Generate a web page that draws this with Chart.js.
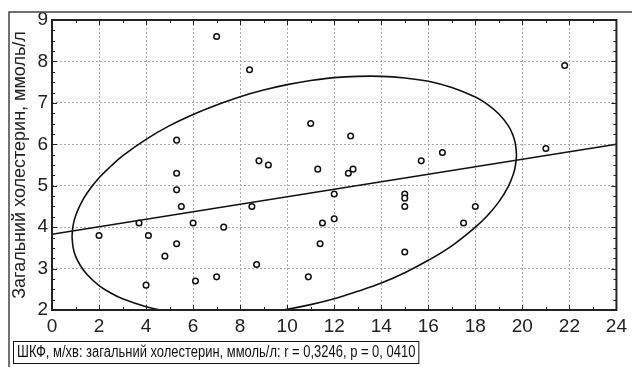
<!DOCTYPE html>
<html>
<head>
<meta charset="utf-8">
<script src="https://cdn.jsdelivr.net/npm/chart.js@4"></script>
<style>
    html, body { margin: 0; padding: 0; background: #fff; }
    canvas { display: block; }
</style>
</head>
<body>
<canvas id="chart" width="632" height="367"></canvas>
<script>
//Observed points: GFR (ml/min) against total cholesterol (mmol/l)
const gfr = [2.0, 3.7, 4.1, 4.0, 4.8, 5.3, 5.3, 5.3, 5.5, 5.3, 6.0, 6.1, 7.0, 7.3, 7.0, 8.4, 8.5, 8.8, 9.2, 8.7,
    10.9, 11.0, 11.3, 11.5, 11.4, 12.0, 12.0, 12.6, 12.8, 12.7, 15.0, 15.0, 15.0, 15.0, 15.7, 16.6, 17.5, 18.0, 21.0, 21.8];
const cholesterol = [3.8, 4.1, 3.8, 2.6, 3.3, 6.1, 5.3, 4.9, 4.5, 3.6, 4.1, 2.7, 8.6, 4.0, 2.8, 7.8, 4.5, 5.6, 5.5, 3.1,
    2.8, 6.5, 5.4, 4.1, 3.6, 4.8, 4.2, 5.3, 5.4, 6.2, 4.8, 4.7, 4.5, 3.4, 5.6, 5.8, 4.1, 4.5, 5.9, 7.9];

//Regression line end points
const fitX = [0, 24];
const fitY = [3.83, 6.0];

//Confidence ellipse outline (clockwise from the leftmost point)
const ellipseX = [0.85, 0.9, 1.0, 1.2, 1.5, 2.0, 2.5, 3.0, 4.0, 5.0, 6.0, 7.0, 8.0, 9.0, 10.0, 11.0, 12.0, 13.0, 14.0,
    15.0, 16.0, 17.0, 18.0, 18.5, 19.0, 19.4, 19.6, 19.7, 19.75,
    19.7, 19.6, 19.4, 19.0, 18.5, 18.0, 17.0, 16.0, 15.0, 14.0, 13.0, 12.0, 11.0, 10.0, 9.0, 8.0, 7.0, 6.0, 5.0,
    4.0, 3.0, 2.5, 2.0, 1.5, 1.2, 1.0, 0.9, 0.85];
const ellipseY = [3.77, 4.05, 4.27, 4.54, 4.83, 5.19, 5.47, 5.72, 6.12, 6.45, 6.72, 6.95, 7.15, 7.31, 7.44, 7.54, 7.61, 7.64, 7.64,
    7.60, 7.52, 7.37, 7.14, 6.97, 6.73, 6.45, 6.22, 6.02, 5.75,
    5.47, 5.25, 4.98, 4.61, 4.27, 4.00, 3.55, 3.20, 2.90, 2.65, 2.45, 2.27, 2.13, 2.02, 1.94, 1.89, 1.87, 1.90, 1.96,
    2.08, 2.27, 2.41, 2.59, 2.85, 3.08, 3.30, 3.50, 3.77];

const xTicks = [0, 24, 2];
const yTicks = [2, 9, 1];
const yTitle = 'Загальний холестерин, ммоль/л';
const caption = 'ШКФ, м/хв: загальний холестерин, ммоль/л: r = 0,3246, p = 0, 0410';

function toPoints(xs, ys) {
    return xs.map(function (x, i) { return {x: x, y: ys[i]}; });
}

//Frame, inner minor ticks and the caption box
const framePlugin = {
    id: 'frame',
    afterDraw: function (chart) {
        const ctx = chart.ctx;
        const a = chart.chartArea;
        const x = chart.scales.x;
        const y = chart.scales.y;
        ctx.save();

        ctx.strokeStyle = '#444';
        ctx.lineWidth = 1.5;
        ctx.beginPath();
        ctx.moveTo(9, 400);
        ctx.lineTo(9, 12);
        ctx.lineTo(660, 12);
        ctx.stroke();

        ctx.strokeStyle = '#222';
        ctx.lineWidth = 2;
        ctx.strokeRect(a.left, a.top, a.right - a.left, a.bottom - a.top);

        ctx.lineWidth = 1;
        for (let i = 0; i <= 28; i++) {
            const py = Math.round(y.getPixelForValue(yTicks[0] + i / 4)) + 0.5;
            const len = (i % 4 === 0) ? 5 : 3;
            ctx.beginPath();
            ctx.moveTo(a.left, py); ctx.lineTo(a.left + len, py);
            ctx.moveTo(a.right, py); ctx.lineTo(a.right - len, py);
            ctx.stroke();
        }
        for (let v = xTicks[0]; v <= xTicks[1]; v++) {
            const px = Math.round(x.getPixelForValue(v)) + 0.5;
            const len = (v % 2 === 0) ? 5 : 3;
            ctx.beginPath();
            ctx.moveTo(px, a.bottom); ctx.lineTo(px, a.bottom - len);
            ctx.moveTo(px, a.top); ctx.lineTo(px, a.top + len);
            ctx.stroke();
        }

        //The caption font is condensed in the original, so squeeze it horizontally
        const squeeze = 0.81;
        ctx.font = '16px "Liberation Sans", Arial, sans-serif';
        ctx.fillStyle = '#111';
        ctx.textBaseline = 'middle';
        const w = ctx.measureText(caption).width * squeeze;
        ctx.strokeStyle = '#111';
        ctx.strokeRect(13.5, 341.5, w + 7, 22);
        ctx.translate(17, 353);
        ctx.scale(squeeze, 1);
        ctx.fillText(caption, 0, 0);
        ctx.restore();
    }
};

const config = {
    type: 'scatter',
    data: {
        datasets: [{
            label: 'points',
            data: toPoints(gfr, cholesterol),
            pointStyle: 'circle',
            pointRadius: 2.8,
            pointBorderWidth: 1.5,
            borderColor: '#111',
            backgroundColor: '#fff'
        }, {
            label: 'fit',
            data: toPoints(fitX, fitY),
            showLine: true,
            pointRadius: 0,
            borderColor: '#111',
            borderWidth: 1.6
        }, {
            label: 'ellipse',
            data: toPoints(ellipseX, ellipseY),
            showLine: true,
            tension: 0.4,
            capBezierPoints: false,
            pointRadius: 0,
            borderColor: '#111',
            borderWidth: 1.6
        }]
    },
    options: {
        responsive: false,
        animation: false,
        layout: {padding: {top: 20, right: 10, bottom: 27, left: 0}},
        plugins: {legend: {display: false}, tooltip: {enabled: false}},
        scales: {
            x: {
                type: 'linear',
                min: xTicks[0],
                max: xTicks[1],
                afterFit: function (scale) { scale.height = 30; },
                ticks: {
                    stepSize: xTicks[2],
                    padding: 5,
                    color: '#222',
                    font: {family: '"Liberation Sans", Arial, sans-serif', size: 19}
                },
                grid: {color: '#a8a8a8', lineWidth: 1, drawTicks: false},
                border: {display: false, dash: [2, 2]}
            },
            y: {
                type: 'linear',
                min: yTicks[0],
                max: yTicks[1],
                afterFit: function (scale) { scale.width = 52; },
                ticks: {
                    stepSize: yTicks[2],
                    padding: 4,
                    color: '#222',
                    font: {family: '"Liberation Sans", Arial, sans-serif', size: 19}
                },
                title: {
                    display: true,
                    text: yTitle,
                    color: '#222',
                    padding: {top: 9, bottom: 0},
                    font: {family: '"Liberation Sans", Arial, sans-serif', size: 18, lineHeight: 1.2}
                },
                grid: {color: '#a8a8a8', lineWidth: 1, drawTicks: false},
                border: {display: false, dash: [2, 2]}
            }
        }
    },
    plugins: [framePlugin]
};

window.onload = function () {
    window.myChart = new Chart(document.getElementById('chart').getContext('2d'), config);
};
</script>
</body>
</html>
